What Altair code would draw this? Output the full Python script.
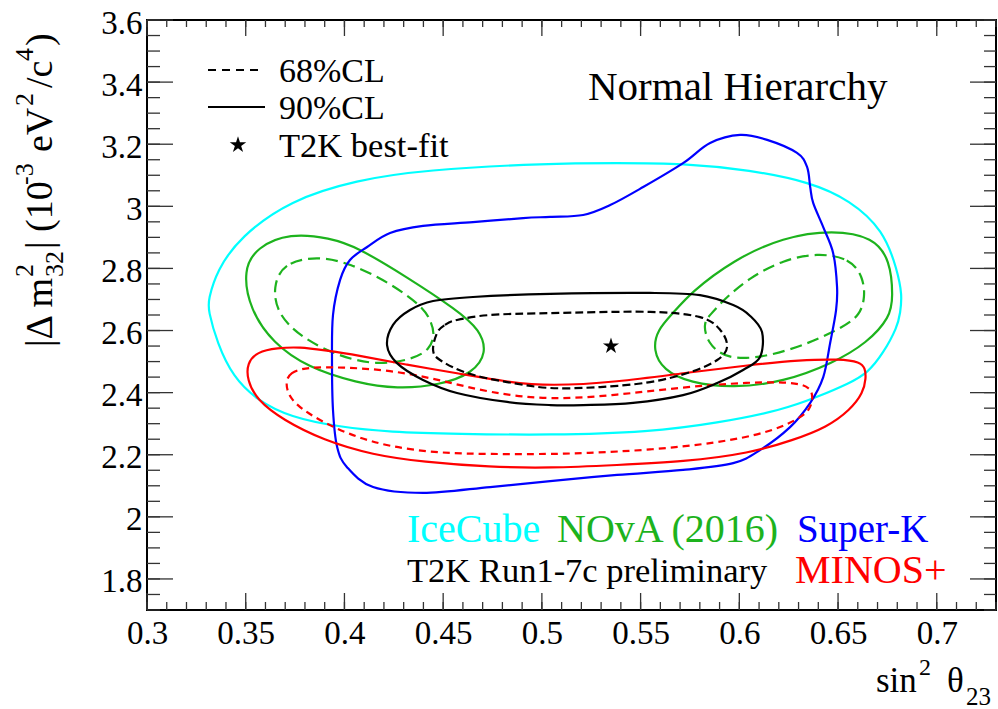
import altair as alt
import pandas as pd

# ---------------- data ----------------
# IceCube 90% CL
icecube90_x = [0.504, 0.538, 0.5715, 0.6055, 0.636, 0.656, 0.673, 0.680, 0.6825, 0.6815, 0.680, 0.673,
               0.665, 0.656, 0.6395, 0.622, 0.5888, 0.5548, 0.504, 0.457, 0.423, 0.3978, 0.3724, 0.3557,
               0.3436, 0.3355, 0.331, 0.331, 0.3355, 0.3471, 0.3724, 0.4064, 0.4398]
icecube90_y = [3.139, 3.139, 3.139, 3.117, 3.078, 3.020, 2.924, 2.795, 2.714, 2.656, 2.611, 2.528,
               2.463, 2.431, 2.386, 2.344, 2.302, 2.273, 2.263, 2.267, 2.273, 2.289, 2.321, 2.376,
               2.450, 2.560, 2.666, 2.698, 2.795, 2.901, 3.020, 3.085, 3.117]

# NOvA (2016) 90% CL, two lobes
nova90_left_x = [0.3724, 0.3927, 0.4064, 0.4317, 0.457, 0.4687, 0.4722, 0.4651, 0.4484, 0.4266,
                 0.4064, 0.3811, 0.3638, 0.3522, 0.3486, 0.3557]
nova90_left_y = [2.914, 2.898, 2.869, 2.772, 2.666, 2.602, 2.528, 2.463, 2.424, 2.412,
                 2.431, 2.482, 2.560, 2.666, 2.795, 2.869]
nova90_right_x = [0.6475, 0.6678, 0.6764, 0.6779, 0.6764, 0.6647, 0.6475, 0.6222, 0.5969, 0.5751,
                  0.5614, 0.5563, 0.5584, 0.5665, 0.5751, 0.5969, 0.6222]
nova90_right_y = [2.924, 2.901, 2.827, 2.708, 2.643, 2.560, 2.495, 2.434, 2.415, 2.431,
                  2.473, 2.537, 2.602, 2.656, 2.721, 2.827, 2.901]
# NOvA (2016) 68% CL, two lobes
nova68_left_x = [0.3861, 0.3689, 0.3638, 0.3659, 0.3775, 0.3978, 0.4165, 0.4332, 0.4434, 0.4459,
                 0.4434, 0.4398, 0.4231, 0.4028]
nova68_left_y = [2.840, 2.817, 2.740, 2.656, 2.579, 2.515, 2.489, 2.505, 2.537, 2.592,
                 2.634, 2.676, 2.753, 2.817]
nova68_right_x = [0.6394, 0.6561, 0.6627, 0.6637, 0.6612, 0.6526, 0.6359, 0.6141, 0.5938, 0.5837,
                  0.5817, 0.5852, 0.5918, 0.6055, 0.6222]
nova68_right_y = [2.850, 2.833, 2.772, 2.708, 2.650, 2.611, 2.560, 2.515, 2.505, 2.560,
                  2.624, 2.650, 2.698, 2.772, 2.827]

# Super-K 90% CL
superk90_x = [0.3942, 0.3937, 0.3942, 0.3963, 0.4013, 0.4145, 0.4398, 0.4738, 0.5042, 0.5381,
              0.5715, 0.5969, 0.6105, 0.6257, 0.6359, 0.6425, 0.646, 0.649, 0.6495, 0.6475,
              0.6425, 0.6374, 0.6359, 0.6343, 0.6292, 0.6141, 0.6004, 0.5852, 0.5715, 0.5513,
              0.5346, 0.5209, 0.5042, 0.4905, 0.4651, 0.4398, 0.4231, 0.4115, 0.4028, 0.3978]
superk90_y = [2.650, 2.505, 2.344, 2.225, 2.160, 2.096, 2.077, 2.096, 2.115, 2.135,
              2.151, 2.173, 2.215, 2.289, 2.367, 2.450, 2.560, 2.666, 2.740, 2.850,
              2.933, 3.011, 3.062, 3.127, 3.172, 3.214, 3.230, 3.204, 3.139, 3.062,
              3.004, 2.972, 2.966, 2.962, 2.949, 2.937, 2.914, 2.869, 2.827, 2.763]

# MINOS+ 90% and 68% CL
minos90_x = [0.3659, 0.3557, 0.3507, 0.3507, 0.3557, 0.3689, 0.3892, 0.4145, 0.4398, 0.4738,
             0.5042, 0.5381, 0.5715, 0.6055, 0.6273, 0.6445, 0.6561, 0.6627, 0.6642, 0.6637,
             0.6612, 0.6511, 0.6308, 0.6055, 0.5715, 0.5381, 0.5042, 0.4824, 0.457, 0.4317,
             0.4064, 0.3892, 0.3775]
minos90_y = [2.544, 2.531, 2.495, 2.441, 2.376, 2.312, 2.247, 2.199, 2.177, 2.160,
             2.157, 2.167, 2.177, 2.205, 2.247, 2.289, 2.344, 2.399, 2.447, 2.479,
             2.499, 2.508, 2.505, 2.489, 2.463, 2.434, 2.421, 2.434, 2.463, 2.489,
             2.521, 2.537, 2.547]
minos68_x = [0.3811, 0.3724, 0.3699, 0.3724, 0.3841, 0.4028, 0.4231, 0.4484, 0.4738, 0.5042,
             0.5209, 0.5548, 0.5888, 0.6141, 0.6293, 0.6359, 0.6374, 0.6359, 0.6273, 0.6055,
             0.5715, 0.5381, 0.5042, 0.4738, 0.4484, 0.4231, 0.3978]
minos68_y = [2.482, 2.466, 2.431, 2.376, 2.321, 2.263, 2.225, 2.205, 2.202, 2.202,
             2.205, 2.215, 2.238, 2.270, 2.312, 2.344, 2.386, 2.418, 2.434, 2.434,
             2.418, 2.392, 2.376, 2.399, 2.441, 2.473, 2.482]

# T2K Run1-7c 90% and 68% CL, and best fit
t2k90_x = [0.4216, 0.4246, 0.4332, 0.4449, 0.4651, 0.5042, 0.5548, 0.5801, 0.5969, 0.6055,
           0.6115, 0.6105, 0.6019, 0.5888, 0.5715, 0.5462, 0.5209, 0.5042, 0.4824, 0.457,
           0.4398, 0.4266]
t2k90_y = [2.552, 2.618, 2.666, 2.695, 2.708, 2.718, 2.721, 2.714, 2.682, 2.647,
           2.595, 2.515, 2.473, 2.431, 2.392, 2.367, 2.360, 2.360, 2.370, 2.399,
           2.441, 2.495]
t2k68_x = [0.4469, 0.4509, 0.457, 0.4738, 0.5042, 0.5548, 0.5801, 0.5903, 0.5938, 0.5888,
           0.5751, 0.5548, 0.5295, 0.5042, 0.4824, 0.4621, 0.4484, 0.4449]
t2k68_y = [2.592, 2.618, 2.634, 2.650, 2.656, 2.660, 2.643, 2.602, 2.547, 2.505,
           2.466, 2.434, 2.418, 2.415, 2.434, 2.463, 2.505, 2.537]
t2k_best_x = [0.535]
t2k_best_y = [2.55]

# axis ticks
x_major = [0.3, 0.35, 0.4, 0.45, 0.5, 0.55, 0.6, 0.65, 0.7]
y_major = [1.8, 2.0, 2.2, 2.4, 2.6, 2.8, 3.0, 3.2, 3.4, 3.6]
x_minor = [round(0.30 + 0.01 * i, 2) for i in range(44)]
y_minor = [round(1.70 + 0.05 * i, 2) for i in range(39)]

# ---------------- styling ----------------
W, H = 849, 590
SERIF = "Liberation Serif"
CYAN, GREEN, BLUE, RED, BLACK = "#00FFFF", "#1DB31D", "#0000FF", "#FF0000", "#000000"
LW = 2.2

X_ENC = alt.X("x:Q",
              scale=alt.Scale(domain=[0.3, 0.73], nice=False, zero=False),
              axis=alt.Axis(values=x_major, format="~g", title=None, ticks=False, tickSize=0,
                            domain=False, grid=False, labelPadding=33, labelBaseline="alphabetic",
                            labelFont=SERIF, labelFontSize=33, labelColor="black",
                            labelFlush=False, labelOverlap=False))
Y_ENC = alt.Y("y:Q",
              scale=alt.Scale(domain=[1.7, 3.6], nice=False, zero=False),
              axis=alt.Axis(values=y_major, format="~g", title=None, ticks=False, tickSize=0,
                            domain=False, grid=False, labelPadding=5, labelBaseline="middle",
                            labelOffset=3, labelFont=SERIF, labelFontSize=33, labelColor="black",
                            labelFlush=False, labelOverlap=False))

STAR = ("M0,-1L0.2245,-0.309L0.951,-0.309L0.363,0.118L0.588,0.809L0,0.382"
        "L-0.588,0.809L-0.363,0.118L-0.951,-0.309L-0.2245,-0.309Z")

layers = []


def contour(xs, ys, color, dash=None, interp="basis-closed"):
    df = pd.DataFrame({"x": xs, "y": ys, "i": list(range(len(xs)))})
    kw = dict(color=color, strokeWidth=LW, interpolate=interp)
    if dash:
        kw["strokeDash"] = dash
    return alt.Chart(df).mark_line(**kw).encode(x=X_ENC, y=Y_ENC, order="i:Q")


layers.append(contour(icecube90_x, icecube90_y, CYAN))
layers.append(contour(nova90_left_x, nova90_left_y, GREEN))
layers.append(contour(nova90_right_x, nova90_right_y, GREEN))
layers.append(contour(nova68_left_x, nova68_left_y, GREEN, [12, 6]))
layers.append(contour(nova68_right_x, nova68_right_y, GREEN, [12, 6]))
layers.append(contour(superk90_x, superk90_y, BLUE, interp="cardinal-closed"))
layers.append(contour(minos90_x, minos90_y, RED))
layers.append(contour(minos68_x, minos68_y, RED, [7, 5]))
layers.append(contour(t2k90_x, t2k90_y, BLACK, interp="cardinal-closed"))
layers.append(contour(t2k68_x, t2k68_y, BLACK, [8, 4], interp="cardinal-closed"))

best = pd.DataFrame({"x": t2k_best_x, "y": t2k_best_y})
layers.append(alt.Chart(best).mark_point(shape=STAR, filled=True, color="black", size=290, opacity=1)
              .encode(x=X_ENC, y=Y_ENC))

# inward ticks on all four sides
TICK_COL = "#333333"
dfx_maj = pd.DataFrame({"x": x_major})
dfx_min = pd.DataFrame({"x": x_minor})
dfy_maj = pd.DataFrame({"y": y_major})
dfy_min = pd.DataFrame({"y": y_minor})
for df, ln_b, ln_t in [(dfx_maj, 17, 16), (dfx_min, 8, 7)]:
    layers.append(alt.Chart(df).mark_rule(color=TICK_COL, strokeWidth=1.3)
                  .encode(x=X_ENC, y=alt.value(H), y2=alt.value(H - ln_b)))
    layers.append(alt.Chart(df).mark_rule(color=TICK_COL, strokeWidth=1.3)
                  .encode(x=X_ENC, y=alt.value(0), y2=alt.value(ln_t)))
for df, ln_l, ln_r in [(dfy_maj, 26, 26), (dfy_min, 13, 12)]:
    layers.append(alt.Chart(df).mark_rule(color=TICK_COL, strokeWidth=1.3)
                  .encode(y=Y_ENC, x=alt.value(0), x2=alt.value(ln_l)))
    layers.append(alt.Chart(df).mark_rule(color=TICK_COL, strokeWidth=1.3)
                  .encode(y=Y_ENC, x=alt.value(W), x2=alt.value(W - ln_r)))

one = pd.DataFrame({"d": [0]})


def label(text, x, y, size, color="black", angle=0, align="left"):
    kw = dict(text=text, font=SERIF, fontSize=size, color=color, align=align,
              baseline="alphabetic")
    if angle:
        kw["angle"] = angle
    return alt.Chart(one).mark_text(**kw).encode(x=alt.value(x), y=alt.value(y))


# legend
layers.append(alt.Chart(one).mark_rule(color="black", strokeWidth=2, strokeDash=[8, 6])
              .encode(x=alt.value(61), x2=alt.value(117), y=alt.value(50)))
layers.append(alt.Chart(one).mark_rule(color="black", strokeWidth=2)
              .encode(x=alt.value(61), x2=alt.value(118), y=alt.value(87)))
layers.append(alt.Chart(one).mark_point(shape=STAR, filled=True, color="black", size=300, opacity=1)
              .encode(x=alt.value(91), y=alt.value(125)))
layers.append(label("68%CL", 132, 62, 34))
layers.append(label("90%CL", 132, 99, 34))
layers.append(label("T2K best-fit", 132, 137, 34.5))
layers.append(label("Normal Hierarchy", 441, 80, 41))

# experiment names
layers.append(label("IceCube", 260, 522, 40, CYAN))
layers.append(label("NOvA (2016)", 410, 522, 40, GREEN))
layers.append(label("Super-K", 650, 522, 39, BLUE))
layers.append(label("T2K Run1-7c preliminary", 260, 562, 34.5))
layers.append(label("MINOS+", 648, 563, 40, RED))

# x-axis title: sin^2 theta_23
layers.append(label("sin", 729, 672, 35))
layers.append(label("2", 772, 655, 24))
layers.append(label("θ", 800, 672, 35))
layers.append(label("23", 819, 685, 25))

# y-axis title: |Δ m^2_32| (10^-3 eV^2/c^4), rotated
YB, YSUP, YSUB = -95, -114, -84
layers.append(label("|Δ m", YB, 327, 38, angle=270))
layers.append(label("2", YSUP, 257, 26, angle=270))
layers.append(label("32", YSUB, 257, 26, angle=270))
layers.append(label("| (10", YB, 229, 38, angle=270))
layers.append(label("-3", YSUP, 165, 26, angle=270))
layers.append(label("eV", YB, 132, 38, angle=270))
layers.append(label("2", YSUP, 86, 26, angle=270))
layers.append(label("/c", YB, 68, 38, angle=270))
layers.append(label("4", YSUP, 41, 26, angle=270))
layers.append(label(")", YB, 26, 38, angle=270))

chart = (alt.layer(*layers)
         .properties(width=W, height=H,
                     autosize=alt.AutoSizeParams(type="none"),
                     padding={"left": 147, "top": 20, "right": 2, "bottom": 99},
                     background="white")
         .configure_view(stroke="black", strokeWidth=2)
         .configure_axis(labelFont=SERIF))

chart.save("out.html", embed_options={"renderer": "svg", "actions": False})
